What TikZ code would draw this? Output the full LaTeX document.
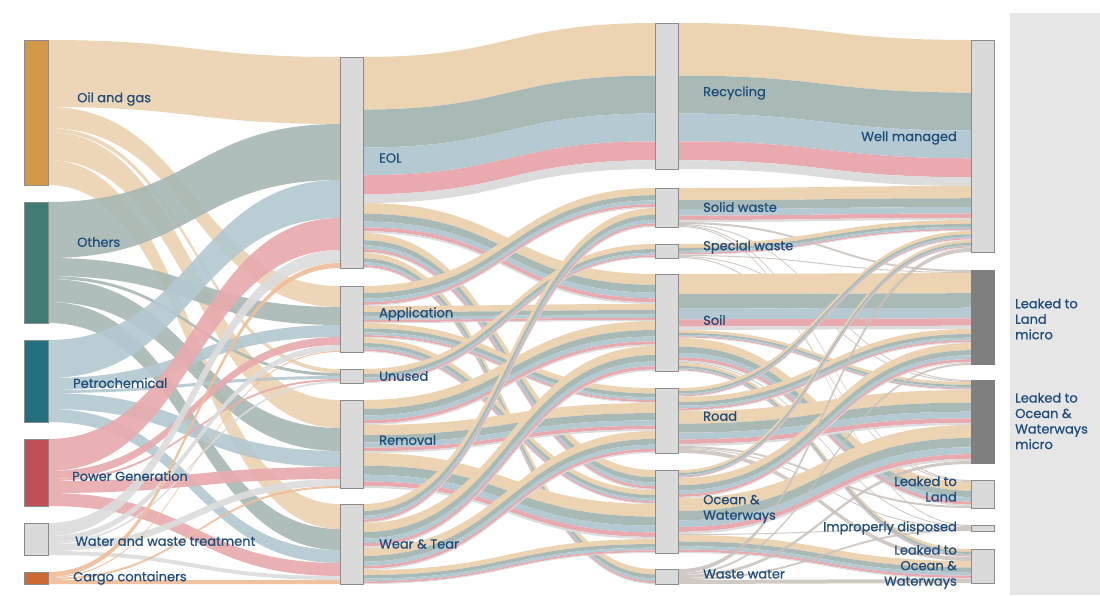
\documentclass[tikz,border=0pt]{standalone}
\usepackage{fontspec}
\setmainfont{Poppins}[FakeBold=0.7]

% flow colours (by origin)
\definecolor{flowog}{HTML}{ECD3B2}
\definecolor{flowot}{HTML}{A9B9B5}
\definecolor{flowpc}{HTML}{B4C9D1}
\definecolor{flowpg}{HTML}{E8AAAE}
\definecolor{flowww}{HTML}{DCDCDC}
\definecolor{flowcc}{HTML}{EEBE9A}
\definecolor{thinflow}{HTML}{C9C1BA}
% node colours
\definecolor{nodeog}{HTML}{D4984A}
\definecolor{nodeot}{HTML}{3F7B72}
\definecolor{nodepc}{HTML}{236F80}
\definecolor{nodepg}{HTML}{C14F57}
\definecolor{nodeww}{HTML}{DADADA}
\definecolor{nodecc}{HTML}{CC6A35}
\definecolor{boxgray}{HTML}{DADADA}
\definecolor{boxline}{HTML}{8C8C8C}
\definecolor{microgray}{HTML}{7F7F7F}
\definecolor{panelgray}{HTML}{E6E6E6}
\definecolor{labelblue}{HTML}{1E4D7B}

% running offsets of the nodes
\newcommand{\sknode}[2]{%
  \expandafter\xdef\csname skout#1\endcsname{#2}%
  \expandafter\xdef\csname skin#1\endcsname{#2}}
\newcommand{\skstep}[3]{%
  \pgfmathsetmacro\sktmp{\csname skout#1\endcsname+#3}%
  \expandafter\xdef\csname skout#1\endcsname{\sktmp}%
  \pgfmathsetmacro\sktmp{\csname skin#2\endcsname+#3}%
  \expandafter\xdef\csname skin#2\endcsname{\sktmp}}
% one band: x1, y1, x2, y2, width, style
\newcommand{\skband}[6]{%
  \pgfmathsetmacro\skxm{(#1+#3)/2}%
  \fill[#6] (#1,#2) .. controls (\skxm,#2) and (\skxm,#4) .. (#3,#4)
    -- (#3,#4+#5) .. controls (\skxm,#4+#5) and (\skxm,#2+#5) .. (#1,#2+#5) -- cycle;}
% plain flow, coloured by its source
\newcommand{\skflow}[5]{%
  \edef\skya{\csname skout#2\endcsname}%
  \edef\skyb{\csname skin#4\endcsname}%
  \edef\skcol{flow#2}%
  \skband{#1}{\skya}{#3}{\skyb}{#5}{fill=\skcol, fill opacity=0.92}%
  \skstep{#2}{#4}{#5}}
% striped flow
\newcommand{\skstripe}[5]{%
  \edef\skya{\csname skout#2\endcsname}%
  \edef\skyb{\csname skin#4\endcsname}%
  \ifdim #5pt<5pt
    \skband{#1}{\skya}{#3}{\skyb}{#5}{fill=thinflow, fill opacity=0.85}%
  \else
    \foreach \o/\f/\c in {0/.36/flowog, .36/.26/flowot, .62/.19/flowpc, .81/.13/flowpg, .94/.06/flowww}
      {\skband{#1}{\skya+\o*#5}{#3}{\skyb+\o*#5}{\f*#5}{fill=\c}}%
  \fi
  \skstep{#2}{#4}{#5}}

\begin{document}
\begin{tikzpicture}[x=1pt,y=-1pt,
    lbl/.style={text=labelblue, font=\fontsize{13}{15.5}\selectfont, inner sep=0pt},
    srcbox/.style={draw=black!45, line width=0.6pt, minimum width=24pt, inner sep=0pt, outer sep=0pt, anchor=north west},
    midbox/.style={fill=boxgray, draw=boxline, line width=0.8pt, minimum width=23pt, inner sep=0pt, outer sep=0pt, anchor=north west},
    microbox/.style={fill=microgray, minimum width=24pt, inner sep=0pt, outer sep=0pt, anchor=north west}]

    \useasboundingbox (0,0) rectangle (1100,595);
    \fill[panelgray] (1010,13) rectangle (1100,595);

    % node tops
    \foreach \n/\y in {og/40, ot/202, pc/340, pg/439, ww/523, cc/572,
        eol/57, app/286, unu/369, rem/400, wt/504,
        rec/23, sol/188, spe/244, soil/274, road/388, oce/470, wwa/569,
        wm/40, llm/270, lom/380, ll/480, imp/525, lo/549}
        {\sknode{\n}{\y}}

    % sources -> uses
    \foreach \src/\dst/\w in {og/eol/67, og/app/21, og/unu/4, og/rem/28, og/wt/25,
        ot/eol/56, ot/app/18, ot/unu/3, ot/rem/23, ot/wt/21,
        pc/eol/38, pc/app/12, pc/unu/3, pc/rem/16, pc/wt/13,
        pg/eol/32, pg/app/8, pg/unu/2, pg/rem/12, pg/wt/13,
        ww/eol/13, ww/app/6, ww/unu/2, ww/rem/7, ww/wt/4,
        cc/eol/5, cc/app/1, cc/rem/2, cc/wt/4}
        {\skflow{48}{\src}{340}{\dst}{\w}}

    % uses -> pathways
    \foreach \src/\dst/\w in {eol/rec/146, eol/soil/30, eol/oce/20, eol/wwa/15,
        app/sol/20, app/soil/17, app/road/15, app/oce/14,
        unu/spe/14,
        rem/soil/25, rem/road/28, rem/oce/35,
        wt/sol/19, wt/soil/25, wt/road/22, wt/oce/14}
        {\skstripe{363}{\src}{655}{\dst}{\w}}

    % pathways -> fate
    \foreach \src/\dst/\w in {rec/wm/146,
        sol/wm/34, sol/llm/2, sol/lom/1, sol/ll/1, sol/imp/1,
        spe/wm/11, spe/llm/1, spe/lom/1, spe/ll/1,
        soil/llm/56, soil/lom/8, soil/ll/24, soil/imp/1, soil/lo/8,
        road/wm/9, road/llm/14, road/lom/35, road/ll/2, road/imp/1, road/lo/4,
        oce/wm/8, oce/llm/20, oce/lom/36, oce/imp/1, oce/lo/18,
        wwa/wm/4, wwa/llm/2, wwa/lom/3, wwa/imp/2, wwa/lo/4}
        {\skstripe{679}{\src}{971}{\dst}{\w}}

    % boxes
    \foreach \n/\y/\h in {og/40/145, ot/202/121, pc/340/82, pg/439/67, ww/523/32, cc/572/12}
        {\node[srcbox, fill=node\n, minimum height=\h*1pt] (\n) at (24,\y) {};}
    \foreach \n/\y/\h in {eol/57/211, app/286/66, unu/369/14, rem/400/88, wt/504/80}
        {\node[midbox, minimum height=\h*1pt] (\n) at (340,\y) {};}
    \foreach \n/\y/\h in {rec/23/146, sol/188/39, spe/244/14, soil/274/97, road/388/65, oce/470/83, wwa/569/15}
        {\node[midbox, minimum height=\h*1pt] (\n) at (655,\y) {};}
    \foreach \n/\y/\h in {wm/40/212, ll/480/28, imp/525/6, lo/549/34}
        {\node[midbox, minimum height=\h*1pt] (\n) at (971,\y) {};}
    \node[microbox, minimum height=95pt] (llm) at (971,270) {};
    \node[microbox, minimum height=84pt] (lom) at (971,380) {};

    % labels
    \node[lbl, anchor=west] (tog) at (77,99) {Oil and gas};
    \node[lbl, anchor=west] (tot) at (77,242) {Others};
    \node[lbl, anchor=west] (tpc) at (73,383) {Petrochemical};
    \node[lbl, anchor=west] (tpg) at (72,476) {Power Generation};
    \node[lbl, anchor=west] (tww) at (75,541) {Water and waste treatment};
    \node[lbl, anchor=west] (tcc) at (73,578) {Cargo containers};

    \node[lbl, anchor=west] (teol) at (379,158) {EOL};
    \node[lbl, anchor=west] (tapp) at (379,314) {Application};
    \node[lbl, anchor=west] (tunu) at (379,376) {Unused};
    \node[lbl, anchor=west] (trem) at (379,440) {Removal};
    \node[lbl, anchor=west] (twt) at (379,544) {Wear \& Tear};

    \node[lbl, anchor=west] (trec) at (703,93) {Recycling};
    \node[lbl, anchor=west] (tsol) at (703,207) {Solid waste};
    \node[lbl, anchor=west] (tspe) at (703,247) {Special waste};
    \node[lbl, anchor=west] (tsoil) at (703,320) {Soil};
    \node[lbl, anchor=west] (troad) at (703,416) {Road};
    \node[lbl, anchor=west, align=left] (toce) at (703,509) {Ocean \&\\Waterways};
    \node[lbl, anchor=west] (twwa) at (703,574) {Waste water};

    \node[lbl, anchor=east] (twm) at (957,138) {Well managed};
    \node[lbl, anchor=east, align=right] (tll) at (957,489) {Leaked to\\Land};
    \node[lbl, anchor=east] (timp) at (957,528) {Improperly disposed};
    \node[lbl, anchor=east, align=right] (tlo) at (957,567) {Leaked to\\Ocean \&\\Waterways};
    \node[lbl, anchor=west, align=left] (tllm) at (1015,319) {Leaked to\\Land\\micro};
    \node[lbl, anchor=west, align=left] (tlom) at (1015,421) {Leaked to\\Ocean \&\\Waterways\\micro};
\end{tikzpicture}
\end{document}
